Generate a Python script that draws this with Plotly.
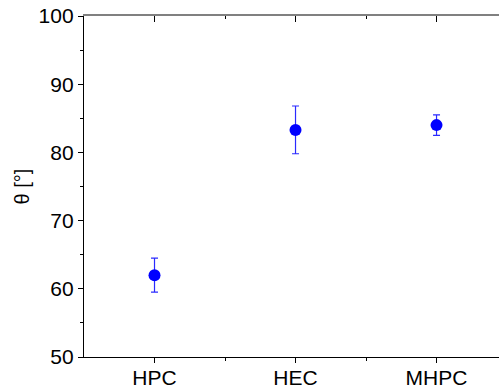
import plotly.graph_objects as go

categories = ["HPC", "HEC", "MHPC"]
x_pos = [1, 2, 3]
theta = [62.0, 83.3, 84.0]
theta_err = [2.5, 3.5, 1.5]
y_ticks = [50, 60, 70, 80, 90, 100]

font = "Arial, Liberation Sans, sans-serif"

fig = go.Figure()
fig.add_trace(go.Scatter(
    x=x_pos, y=theta, mode="markers",
    marker=dict(color="#0000ff", size=12, line=dict(width=0)),
    error_y=dict(type="data", array=theta_err, visible=True,
                 color="#2a2aff", thickness=1.2, width=3.5),
    showlegend=False, hoverinfo="skip",
))
fig.add_trace(go.Scatter(x=[1], y=[50], xaxis="x2", mode="markers",
                         marker=dict(opacity=0), showlegend=False, hoverinfo="skip"))

fig.update_layout(
    width=499, height=390,
    margin=dict(l=84, r=0, t=16, b=33, autoexpand=False),
    paper_bgcolor="white", plot_bgcolor="white",
    font=dict(family=font, size=21, color="black"),
    xaxis=dict(
        range=[0.5, 3.443], tickvals=x_pos, ticktext=categories,
        showgrid=False, zeroline=False, automargin=False,
        showline=True, linecolor="black", linewidth=1.3,
        ticks="outside", ticklen=5, tickwidth=1, tickcolor="black",
        minor=dict(tickvals=[1.5, 2.5], ticks="outside", ticklen=3, tickcolor="black"),
        tickfont=dict(size=21), ticklabelstandoff=-3,
    ),
    xaxis2=dict(
        range=[0.5, 3.443], overlaying="x", side="top", anchor="y",
        tickvals=x_pos, showticklabels=False, automargin=False,
        showgrid=False, zeroline=False,
        showline=True, linecolor="#808080", linewidth=1.5,
        ticks="inside", ticklen=6, tickwidth=1, tickcolor="black",
        minor=dict(tickvals=[1.5, 2.5], ticks="inside", ticklen=3, tickcolor="black"),
    ),
    yaxis=dict(
        range=[50, 100], tickvals=y_ticks,
        showgrid=False, zeroline=False, automargin=False,
        showline=True, linecolor="black", linewidth=1.3,
        ticks="outside", ticklen=5, tickwidth=1, tickcolor="black",
        minor=dict(dtick=5, tick0=50, ticks="outside", ticklen=3, tickcolor="black"),
        tickfont=dict(size=21),
        title=dict(text="θ [°]", font=dict(size=20), standoff=3),
    ),
)

fig.write_html(
    "out.html",
    config={"displayModeBar": False},
    post_script="document.body.style.margin='0';document.body.style.overflow='hidden';",
)
